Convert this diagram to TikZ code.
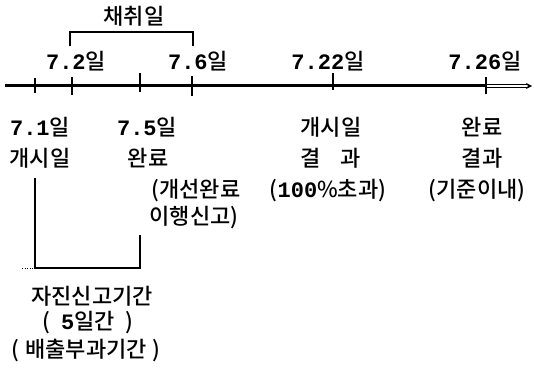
\documentclass[tikz,border=0pt]{standalone}
\usepackage{fontspec}
\setmainfont{Noto Sans CJK KR}[BoldFont={Noto Sans CJK KR Bold}]
\newfontfamily\krmed{Noto Sans CJK KR Medium}
\newfontfamily\numfont{Liberation Mono}
\usetikzlibrary{arrows.meta}
\tikzset{
  lbl/.style={inner sep=0pt, font=\krmed\fontsize{22}{26}\selectfont, text=black},
  axisline/.style={line width=3pt, draw=black},
  tickline/.style={line width=2.2pt, draw=black},
  brk/.style={line width=2pt, draw=black},
}
\newcommand{\dd}[1]{{\numfont\bfseries #1}}
\begin{document}
\begin{tikzpicture}[x=1pt,y=-1pt]
\useasboundingbox (0,0) rectangle (534,371);
% axis coordinates
\coordinate (a0) at (5,86);
\coordinate (aend) at (486,86);
\coordinate (tip) at (532,86);
\coordinate (t1) at (35,86);
\coordinate (t2) at (72,86);
\coordinate (t5) at (140,86);
\coordinate (t6) at (192,86);
\coordinate (t22) at (333,86);
\coordinate (t26) at (486,86);
\draw[axisline] (a0) -- (aend);
\draw[line width=1pt, double=white, double distance=1.6pt, -{Stealth[length=6pt,width=6pt]}] (aend) -- (tip);
% ticks
\draw[tickline] ([yshift=-7]t1) -- ([yshift=8]t1);
\draw[tickline] ([yshift=-9]t2) -- ([yshift=9]t2);
\draw[tickline] ([yshift=-6]t5) -- ([yshift=13]t5);
\draw[tickline] ([yshift=-10]t6) -- ([yshift=10]t6);
\draw[tickline] ([yshift=-4]t22) -- ([yshift=13]t22);
\draw[tickline] ([yshift=-8]t26) -- ([yshift=9]t26);
% top bracket
\coordinate (b1) at (70,46);
\coordinate (b2) at (193,46);
\coordinate (b1t) at (70,32);
\coordinate (b2t) at (193,32);
\draw[brk] (b1) -- (b1t) -- (b2t) -- (b2);
\node[lbl] (chwi) at (134,16) {채취일};
% top labels
\node[lbl] (l72) at (76,61) {\dd{7.2}일};
\node[lbl] (l76) at (198,61) {\dd{7.6}일};
\node[lbl] (l722) at (328,61) {\dd{7.22}일};
\node[lbl] (l726) at (485,61) {\dd{7.26}일};
% bottom labels
\node[lbl] (l71) at (40,127) {\dd{7.1}일};
\node[lbl] (g1) at (40,158) {개시일};
\node[lbl] (l75) at (147,127) {\dd{7.5}일};
\node[lbl] (w1) at (148,158) {완료};
\node[lbl] (gs1) at (196,191) {(개선완료};
\node[lbl] (gs2) at (194,218) {이행신고)};
\node[lbl] (g2) at (331,127) {개시일};
\node[lbl] (r1) at (331,158) {결\hspace{0.9em}과};
\node[lbl] (r1b) at (328,191) {(\dd{100}\%초과)};
\node[lbl] (w2) at (482,127) {완료};
\node[lbl] (r2) at (482,158) {결과};
\node[lbl] (r2b) at (477,191) {(기준이내)};
% bottom bracket
\coordinate (c1) at (35,178);
\coordinate (c1b) at (35,268);
\coordinate (c2) at (140,235);
\coordinate (c2b) at (140,268);
\coordinate (cd) at (22,268);
\draw[brk] (c1) -- (c1b) -- (c2b) -- (c2);
\draw[line width=0.6pt, dotted] (cd) -- (c1b);
\node[lbl] (js) at (92,296) {자진신고기간};
\node[lbl] (d5) at (88,323) {(\hspace{0.5em}\dd{5}일간\hspace{0.5em})};
\node[lbl] (bc) at (86,351) {(\hspace{0.25em}배출부과기간\hspace{0.25em})};
\end{tikzpicture}
\end{document}
